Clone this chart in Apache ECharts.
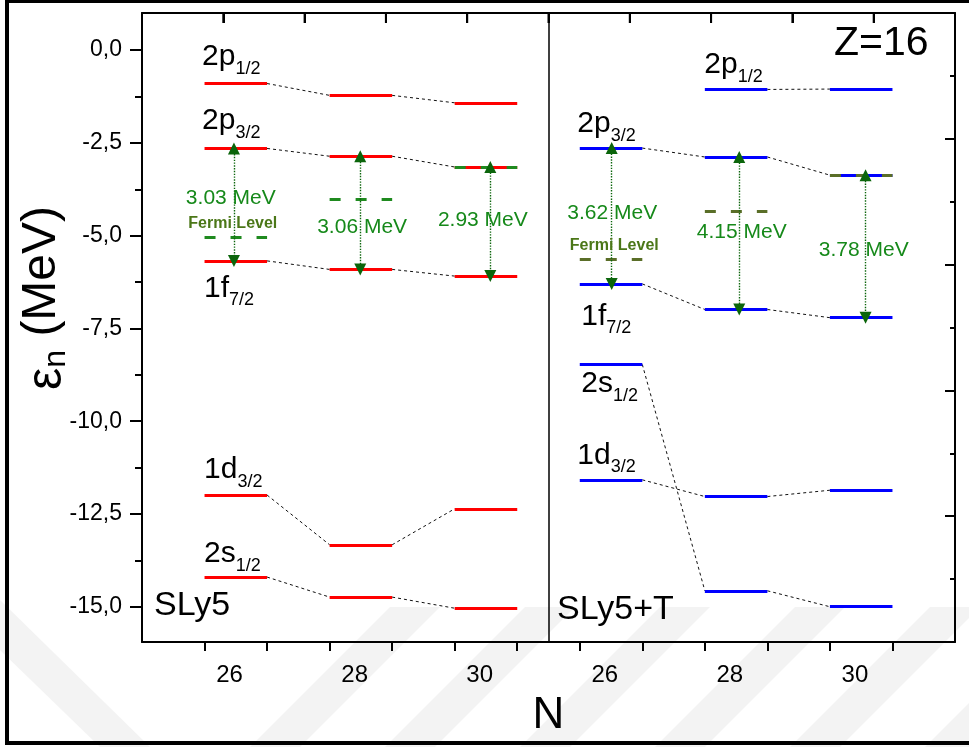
<!DOCTYPE html>
<html><head><meta charset="utf-8">
<script src="https://cdn.jsdelivr.net/npm/echarts@6/dist/echarts.min.js"></script>
<style>html,body{margin:0;padding:0;background:#fff}#c{width:969px;height:747px}</style>
</head><body><div id="c"></div>
<script>
// ---------- data ----------
const nLabels = ['26', '28', '30'];
// SLy5 (red)
const sly5_2p12 = [-0.90, -1.22, -1.42];
const sly5_2p32 = [-2.65, -2.86, -3.15];
const sly5_1f72 = [-5.68, -5.91, -6.09];
const sly5_1d32 = [-11.99, -13.33, -12.36];
const sly5_2s12 = [-14.20, -14.74, -15.04];
const sly5_fermi = [-5.03, -4.01, -3.15];
const sly5_gap = ['3.03', '3.06', '2.93'];
// SLy5+T (blue)
const slyT_2p12 = [null, -1.06, -1.05];
const slyT_2p32 = [-2.64, -2.88, -3.37];
const slyT_1f72 = [-6.30, -6.99, -7.21];
const slyT_1d32 = [-11.58, -12.03, -11.86];
const slyT_2s12 = [-8.47, -14.57, -15.00];
const slyT_fermi = [-5.64, -4.33, -3.37];
const slyT_gap = ['3.62', '4.15', '3.78'];
const yTicks = [-15, -12.5, -10, -7.5, -5, -2.5, 0];
const yMinorTicks = [-13.75, -11.25, -8.75, -6.25, -3.75, -1.25];
const topTicks = [1, 2, 3, 4, 5, 6, 7, 8, 9];

// ---------- layout ----------
const FONT = '"Liberation Sans", Arial, Helvetica, sans-serif';
const W = 969, H = 747;
const G = { left: 142, right: 14, top: 13, bottom: 105 };
const panelStart = [[1, 3, 5], [7, 9, 11]];
const arrowDx = [[0.47, 0.49, 0.57], [0.51, 0.55, 0.57]];
const gapPos = [[[0.42, 0.44], [0.52, 0.63], [0.45, 0.49]], [[0.52, 0.48], [0.59, 0.49], [0.54, 0.53]]];
const fermiLabelDx = [0.46, 0.56];

function segs(vals, p) {
  const out = [];
  vals.forEach((v, i) => { if (v != null) out.push({ coords: [[panelStart[p][i], v], [panelStart[p][i] + 1, v]] }); });
  return out;
}
function conns(vals, p) {
  const out = [];
  for (let i = 0; i < vals.length - 1; i++) {
    if (vals[i] != null && vals[i + 1] != null)
      out.push({ coords: [[panelStart[p][i] + 1, vals[i]], [panelStart[p][i + 1], vals[i + 1]]] });
  }
  return out;
}
const redSets = [sly5_2p12, sly5_2p32, sly5_1f72, sly5_1d32, sly5_2s12];
const blueSets = [slyT_2p12, slyT_2p32, slyT_1f72, slyT_1d32, slyT_2s12];
let redLevels = [], blueLevels = [], connectors = [];
redSets.forEach(s => { redLevels = redLevels.concat(segs(s, 0)); connectors = connectors.concat(conns(s, 0)); });
blueSets.forEach(s => { blueLevels = blueLevels.concat(segs(s, 1)); connectors = connectors.concat(conns(s, 1)); });

const arrows = [];
const gapLabels = [];
[[sly5_2p32, sly5_1f72, sly5_gap], [slyT_2p32, slyT_1f72, slyT_gap]].forEach((g, p) => {
  for (let i = 0; i < 3; i++) {
    const x = panelStart[p][i] + arrowDx[p][i];
    arrows.push({ coords: [[x, g[0][i]], [x, g[1][i]]] });
    const gp = gapPos[p][i];
    gapLabels.push({ value: [panelStart[p][i] + gp[0], g[0][i] + gp[1] * (g[1][i] - g[0][i])], text: g[2][i] + ' MeV' });
  }
});

// level name labels: [main, sub, values, panel, segIndex, side, dx, dy]
const levelLabelDefs = [
  ['2p', '1/2', sly5_2p12, 0, 0, 'above', -2, -5],
  ['2p', '3/2', sly5_2p32, 0, 0, 'above', -2, -6],
  ['1f', '7/2', sly5_1f72, 0, 0, 'below', 0, 13],
  ['1d', '3/2', sly5_1d32, 0, 0, 'above', 0, -4],
  ['2s', '1/2', sly5_2s12, 0, 0, 'above', 0, -2],
  ['2p', '1/2', slyT_2p12, 1, 1, 'above', 0, -3],
  ['2p', '3/2', slyT_2p32, 1, 0, 'above', -2, -3],
  ['1f', '7/2', slyT_1f72, 1, 0, 'below', 2, 18],
  ['2s', '1/2', slyT_2s12, 1, 0, 'below', 2, 5],
  ['1d', '3/2', slyT_1d32, 1, 0, 'above', -2, -3]
];
const levelLabelData = levelLabelDefs.map(d => ({
  value: [panelStart[d[3]][d[4]], d[2][d[4]]],
  label: {
    formatter: '{m|' + d[0] + '}{s|' + d[1] + '}',
    position: [d[6], d[7]],
    align: 'left',
    verticalAlign: d[5] === 'above' ? 'bottom' : 'top'
  }
}));
const fermiLabelData = [
  { value: [panelStart[0][0] + fermiLabelDx[0], sly5_fermi[0]] },
  { value: [panelStart[1][0] + fermiLabelDx[1], slyT_fermi[0]] }
];

const blk = '#000';
const chart = echarts.init(document.getElementById('c'), null, { renderer: 'canvas' });

// watermark stripes (decorative)
const stripes = [];
for (let k = 0; k < 6; k++) {
  const x0 = 250 + k * 135;
  stripes.push({ type: 'polygon', z: -10, silent: true,
    shape: { points: [[x0, 747], [x0 + 50, 747], [x0 + 50 + 140, 607], [x0 + 140, 607]] },
    style: { fill: '#f3f3f3' } });
}
stripes.push({ type: 'polygon', z: -10, silent: true,
  shape: { points: [[0, 600], [0, 650], [100, 747], [150, 747]] }, style: { fill: '#f3f3f3' } });

// top frame ticks (inward), evenly dividing the top edge into 10
const plotW = W - G.left - G.right;
const topTickMarks = topTicks.map(k => ({
  type: 'line', z: 50, silent: true,
  shape: { x1: G.left + k * plotW / 10, y1: G.top, x2: G.left + k * plotW / 10, y2: G.top + 10 },
  style: { stroke: blk, lineWidth: 2 }
}));

const noBorder = { textBorderWidth: 0, textShadowBlur: 0 };
chart.setOption({
  animation: false,
  backgroundColor: '#fff',
  textStyle: { fontFamily: FONT },
  grid: [Object.assign({}, G), Object.assign({}, G), Object.assign({}, G)],
  xAxis: [
    { type: 'value', gridIndex: 0, position: 'bottom', min: 0, max: 13,
      axisLine: { show: true, onZero: false, lineStyle: { color: blk, width: 2 } },
      axisTick: { show: true, inside: false, length: 9, lineStyle: { color: blk, width: 2 }, customValues: [1,2,3,4,5,6,7,8,9,10,11,12] },
      axisLabel: { show: true, customValues: [1.4, 3.4, 5.4, 7.4, 9.4, 11.4], margin: 21, color: blk, fontSize: 24, fontFamily: FONT,
        formatter: v => nLabels[Math.round((v - 1.4) / 2) % 3] },
      splitLine: { show: false },
      name: 'N', nameLocation: 'middle', nameGap: 52,
      nameTextStyle: { fontSize: 44, color: blk, fontFamily: FONT } },
    { type: 'value', gridIndex: 1, position: 'bottom', min: 0, max: 13, show: false, axisLine: { onZero: false } },
    { type: 'value', gridIndex: 2, position: 'top', min: 0, max: 10, interval: 1,
      axisLine: { show: true, onZero: false, lineStyle: { color: blk, width: 2 } },
      axisTick: { show: true, inside: true, length: 10, lineStyle: { color: blk, width: 2 } },
      axisLabel: { show: true, formatter: () => '' }, splitLine: { show: false } }
  ],
  yAxis: [
    { type: 'value', gridIndex: 0, position: 'left', min: -15.95, max: 1.0,
      axisLine: { show: true, onZero: false, lineStyle: { color: blk, width: 2 } },
      axisTick: { show: true, inside: false, length: 12, lineStyle: { color: blk, width: 2 }, customValues: yTicks },
      axisLabel: { show: true, customValues: yTicks, margin: 20, color: blk, fontSize: 23, fontFamily: FONT,
        formatter: v => v.toFixed(1).replace('.', ',') },
      splitLine: { show: false } },
    { type: 'value', gridIndex: 0, position: 'right', min: 0, max: 10,
      axisLine: { show: true, onZero: false, lineStyle: { color: blk, width: 2 } },
      axisTick: { show: true, inside: true, length: 10, lineStyle: { color: blk, width: 2 }, customValues: [2, 4, 6, 8] },
      axisLabel: { show: false }, splitLine: { show: false } },
    { type: 'value', gridIndex: 1, position: 'left', min: -15.95, max: 1.0,
      axisLine: { show: false, onZero: false },
      axisTick: { show: true, inside: false, length: 7, lineStyle: { color: blk, width: 2 }, customValues: yMinorTicks },
      axisLabel: { show: false }, splitLine: { show: false } },
    { type: 'value', gridIndex: 1, position: 'right', min: 0, max: 10,
      axisLine: { show: false, onZero: false },
      axisTick: { show: true, inside: true, length: 5, lineStyle: { color: blk, width: 2 }, customValues: [1, 3, 5, 7, 9] },
      axisLabel: { show: false }, splitLine: { show: false } },
    { type: 'value', gridIndex: 2, position: 'left', min: 0, max: 10, show: false, axisLine: { onZero: false } }
  ],
  series: [
    { type: 'lines', coordinateSystem: 'cartesian2d', xAxisIndex: 0, yAxisIndex: 0, z: 2, silent: true,
      lineStyle: { color: '#111', width: 1, type: [3, 3], opacity: 1 }, data: connectors,
      markLine: { silent: true, symbol: 'none', label: { show: false },
        lineStyle: { color: blk, width: 1.5, type: 'solid' }, data: [{ xAxis: 6.5 }] } },
    { type: 'lines', coordinateSystem: 'cartesian2d', xAxisIndex: 0, yAxisIndex: 0, z: 3, silent: true,
      lineStyle: { color: '#ff0000', width: 3, opacity: 1 }, data: redLevels },
    { type: 'lines', coordinateSystem: 'cartesian2d', xAxisIndex: 0, yAxisIndex: 0, z: 3, silent: true,
      lineStyle: { color: '#0000ff', width: 3, opacity: 1 }, data: blueLevels },
    { type: 'lines', coordinateSystem: 'cartesian2d', xAxisIndex: 0, yAxisIndex: 0, z: 4, silent: true,
      lineStyle: { color: '#1f8a1f', width: 3, type: [11, 15], opacity: 1 }, data: segs(sly5_fermi, 0) },
    { type: 'lines', coordinateSystem: 'cartesian2d', xAxisIndex: 0, yAxisIndex: 0, z: 4, silent: true,
      lineStyle: { color: '#5a6e28', width: 3, type: [11, 15], opacity: 1 }, data: segs(slyT_fermi, 1) },
    { type: 'lines', coordinateSystem: 'cartesian2d', xAxisIndex: 0, yAxisIndex: 0, z: 5, silent: true,
      symbol: ['triangle', 'triangle'], symbolSize: 12,
      lineStyle: { color: '#0b650b', width: 1.4, type: 'dotted', opacity: 1 }, data: arrows },
    { type: 'scatter', xAxisIndex: 0, yAxisIndex: 0, z: 6, silent: true, symbolSize: 1,
      itemStyle: { color: 'transparent' },
      label: Object.assign({ show: true, color: blk, fontFamily: FONT, opacity: 1,
        rich: { m: { fontSize: 30, color: blk, fontFamily: FONT, verticalAlign: 'bottom', padding: [0, 0, 6, 0] },
                s: { fontSize: 18, color: blk, fontFamily: FONT, verticalAlign: 'bottom' } } }, noBorder),
      data: levelLabelData },
    { type: 'scatter', xAxisIndex: 0, yAxisIndex: 0, z: 6, silent: true, symbolSize: 1,
      itemStyle: { color: 'transparent' },
      label: Object.assign({ show: true, position: 'inside', color: '#16891a', fontSize: 21, fontFamily: FONT, opacity: 1,
        formatter: p => p.data.text }, noBorder),
      data: gapLabels },
    { type: 'scatter', xAxisIndex: 0, yAxisIndex: 0, z: 6, silent: true, symbolSize: 1,
      itemStyle: { color: 'transparent' },
      label: Object.assign({ show: true, position: [0, -13], align: 'center', verticalAlign: 'middle', opacity: 1,
        color: '#4b7718', fontSize: 16, fontWeight: 'bold', fontFamily: FONT, formatter: 'Fermi Level' }, noBorder),
      data: fermiLabelData }
  ],
  graphic: stripes.concat(topTickMarks).concat([
    { type: 'rect', z: 100, silent: true, shape: { x: 7, y: 1, width: 990, height: 742 },
      style: { fill: null, stroke: blk, lineWidth: 4 } },
    { type: 'text', z: 100, silent: true, x: 154, y: 606,
      style: { text: 'SLy5', font: '34px ' + FONT, fill: blk, align: 'left', verticalAlign: 'middle', textAlign: 'left', textVerticalAlign: 'middle' } },
    { type: 'text', z: 100, silent: true, x: 557, y: 610,
      style: { text: 'SLy5+T', font: '34px ' + FONT, fill: blk, align: 'left', verticalAlign: 'middle', textAlign: 'left', textVerticalAlign: 'middle' } },
    { type: 'text', z: 100, silent: true, x: 834, y: 44,
      style: { text: 'Z=16', font: '41px ' + FONT, fill: blk, align: 'left', verticalAlign: 'middle', textAlign: 'left', textVerticalAlign: 'middle' } },
    { type: 'text', z: 100, silent: true, x: 45, y: 298, rotation: Math.PI / 2,
      style: { text: '{e|ε}{n|n}{m| (MeV)}', align: 'center', verticalAlign: 'middle', textAlign: 'center', textVerticalAlign: 'middle',
        rich: { e: { fontSize: 50, fontFamily: FONT, fill: blk, color: blk, verticalAlign: 'bottom' },
                n: { fontSize: 32, fontFamily: FONT, fill: blk, color: blk, verticalAlign: 'bottom' },
                m: { fontSize: 48, fontFamily: FONT, fill: blk, color: blk, verticalAlign: 'bottom', padding: [0, 0, 7, 0] } } } }
  ])
});
</script></body></html>
